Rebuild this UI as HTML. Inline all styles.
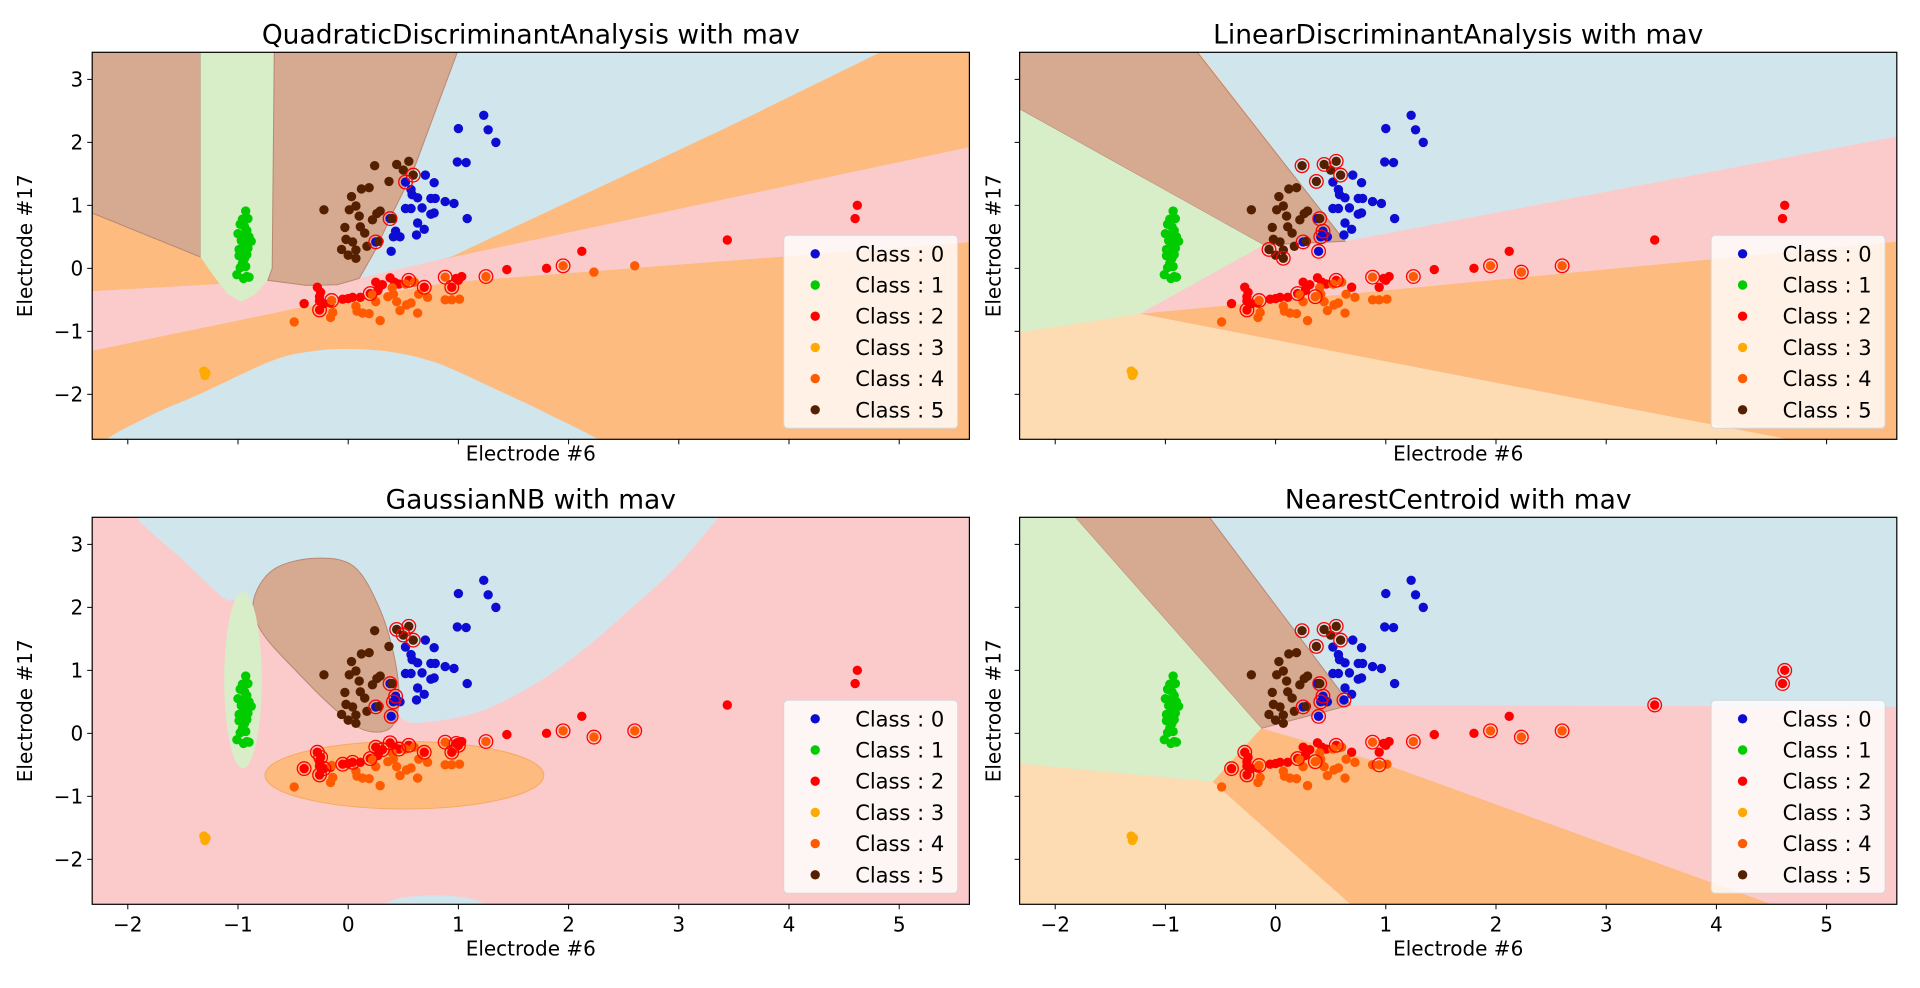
<!DOCTYPE html>
<html><head><meta charset="utf-8"><style>
html,body{margin:0;padding:0;background:#fff;}
svg text{font-family:"DejaVu Sans","Liberation Sans",sans-serif;fill:#000;}
</style></head><body>
<svg id="fig" xmlns="http://www.w3.org/2000/svg" width="1920" height="983" viewBox="0 0 1920 983"></svg>
<script>
// ---------- data ----------
const classNames = ["Class : 0","Class : 1","Class : 2","Class : 3","Class : 4","Class : 5"];
const classColors = ["#0c0cd2","#00cc00","#ff0000","#ffaa00","#ff5a00","#552000"];
const xTicks = [-2,-1,0,1,2,3,4,5];
const yTicks = [-2,-1,0,1,2,3];
const plotTitles = ["QuadraticDiscriminantAnalysis with mav","LinearDiscriminantAnalysis with mav","GaussianNB with mav","NearestCentroid with mav"];
const class0X = [1.23,1.0,1.27,1.34,0.99,1.07,0.70,0.78,0.52,0.57,0.58,0.63,0.75,0.79,0.88,0.96,0.52,0.57,0.67,0.75,0.78,1.08,0.38,0.63,0.69,0.62,0.43,0.41,0.47,0.25,0.39];
const class0Y = [2.43,2.22,2.2,2.0,1.69,1.68,1.48,1.36,1.37,1.25,1.17,1.12,1.11,1.11,1.06,1.03,0.95,0.95,0.96,0.86,0.88,0.79,0.79,0.72,0.62,0.53,0.59,0.50,0.50,0.42,0.27];
const class1X = [-0.93,-0.96,-0.91,-0.98,-0.94,-0.92,-1.00,-0.95,-0.90,-0.88,-0.97,-0.93,-0.99,-0.95,-0.91,-0.99,-0.94,-0.92,-0.96,-0.98,-0.93,-1.01,-0.92,-0.95,-0.90];
const class1Y = [0.91,0.78,0.79,0.70,0.66,0.60,0.55,0.52,0.50,0.43,0.44,0.38,0.30,0.28,0.32,0.20,0.16,0.22,0.08,0.01,0.03,-0.10,-0.13,-0.16,-0.14];
const class2X = [-0.40,-0.28,-0.25,-0.26,-0.22,-0.16,-0.05,0.04,0.11,0.25,0.31,0.38,0.46,0.55,0.69,0.94,1.0,1.03,1.44,1.80,2.12,0.20,0.28,-0.26,-0.26,0.0,0.27,0.42,0.98,3.44,4.62,4.60];
const class2Y = [-0.56,-0.30,-0.38,-0.66,-0.56,-0.54,-0.49,-0.46,-0.46,-0.22,-0.26,-0.15,-0.25,-0.19,-0.30,-0.30,-0.19,-0.13,-0.02,0.0,0.27,-0.40,-0.30,-0.45,-0.52,-0.48,-0.35,-0.22,-0.16,0.45,1.0,0.79];
const class3X = [-1.31,-1.30,-1.29];
const class3Y = [-1.63,-1.70,-1.66];
const class4X = [-0.15,-0.14,-0.16,0.07,0.08,0.13,0.19,0.29,0.22,0.25,0.40,0.41,0.44,0.47,0.53,0.57,0.63,0.64,0.72,0.52,0.60,0.88,0.94,1.01,0.88,1.25,1.95,2.23,2.6,-0.49,0.36];
const class4Y = [-0.51,-0.70,-0.78,-0.60,-0.68,-0.71,-0.72,-0.83,-0.42,-0.53,-0.31,-0.41,-0.53,-0.67,-0.58,-0.55,-0.71,-0.41,-0.46,-0.25,-0.22,-0.50,-0.50,-0.49,-0.14,-0.13,0.04,-0.06,0.04,-0.85,-0.45];
const class5X = [0.24,0.44,0.55,0.50,0.59,0.37,0.12,0.19,0.03,0.07,0.01,-0.22,0.10,0.29,0.26,0.22,0.40,-0.03,0.11,0.15,-0.02,0.04,-0.06,0.07,0.0,0.07,0.17,0.28];
const class5Y = [1.63,1.65,1.70,1.56,1.48,1.38,1.26,1.28,1.14,0.99,0.93,0.93,0.83,0.91,0.87,0.77,0.79,0.65,0.66,0.56,0.46,0.42,0.30,0.29,0.21,0.16,0.35,0.43];
// misclassified (ringed) points per plot
const ringQdaX = [0.52,0.59,0.38,0.25,-0.26,0.69,0.94,0.20,-0.15,0.88,1.25,1.95,0.55];
const ringQdaY = [1.37,1.48,0.79,0.42,-0.66,-0.30,-0.30,-0.40,-0.51,-0.14,-0.13,0.04,-0.19];
const ringLdaX = [0.24,0.44,0.55,0.59,0.37,0.40,0.43,0.41,0.25,0.39,-0.06,0.07,0.88,1.25,1.95,2.23,2.6,-0.26,-0.15,0.20,0.36,0.55];
const ringLdaY = [1.63,1.65,1.70,1.48,1.38,0.79,0.59,0.50,0.42,0.27,0.30,0.16,-0.14,-0.13,0.04,-0.06,0.04,-0.66,-0.51,-0.40,-0.45,-0.19];
const ringGnbX = [-0.40,-0.28,-0.25,-0.26,-0.22,-0.05,0.04,0.20,0.25,0.31,0.38,0.46,0.55,0.69,0.94,1.0,0.98,0.88,1.25,1.95,2.23,2.6,0.44,0.55,0.50,0.59,0.38,0.43,0.41,0.25,0.39];
const ringGnbY = [-0.56,-0.30,-0.38,-0.66,-0.56,-0.49,-0.46,-0.40,-0.22,-0.26,-0.15,-0.25,-0.19,-0.30,-0.30,-0.19,-0.16,-0.14,-0.13,0.04,-0.06,0.04,1.65,1.70,1.56,1.48,0.79,0.59,0.50,0.42,0.27];
const ringNcX = [0.24,0.44,0.55,0.59,0.37,0.40,0.43,0.41,0.25,0.39,0.62,0.88,1.25,1.95,2.23,2.6,-0.26,-0.15,0.20,0.36,0.55,-0.40,-0.28,0.94,3.44,4.62,4.60];
const ringNcY = [1.63,1.65,1.70,1.48,1.38,0.79,0.59,0.50,0.42,0.27,0.53,-0.14,-0.13,0.04,-0.06,0.04,-0.66,-0.51,-0.40,-0.45,-0.19,-0.56,-0.30,-0.50,0.45,1.0,0.79];

// ---------- layout ----------
const NS = "http://www.w3.org/2000/svg";
const svg = document.getElementById('fig');
const XMIN=-2.323, XMAX=5.637, YMIN=-2.714, YMAX=3.43, AW=877.2, AH=387;
const LEFTS=[92.2,1019.6,92.2,1019.6], TOPS=[52.3,52.3,517.3,517.3];
const C = {blue:"#d1e5ed", brown:"#d6a991", green:"#d8eec8", pink:"#fbcbcb", orange:"#fdbb7f", lorange:"#fddcb4"};
function el(tag, attrs, parent){const e=document.createElementNS(NS,tag);for(const k in attrs)e.setAttribute(k,attrs[k]);(parent||svg).appendChild(e);return e;}

function axesFns(i){
  const L=LEFTS[i], T=TOPS[i];
  return {sx:x=>L+(x-XMIN)/(XMAX-XMIN)*AW, sy:y=>T+(YMAX-y)/(YMAX-YMIN)*AH, L, T};
}
function smoothPath(P){ // closed Catmull-Rom
  const n=P.length; let d='M'+P[0][0].toFixed(1)+','+P[0][1].toFixed(1);
  for(let k=0;k<n;k++){
    const p0=P[(k-1+n)%n],p1=P[k],p2=P[(k+1)%n],p3=P[(k+2)%n];
    const c1=[p1[0]+(p2[0]-p0[0])/6,p1[1]+(p2[1]-p0[1])/6];
    const c2=[p2[0]-(p3[0]-p1[0])/6,p2[1]-(p3[1]-p1[1])/6];
    d+=' C'+c1[0].toFixed(1)+','+c1[1].toFixed(1)+' '+c2[0].toFixed(1)+','+c2[1].toFixed(1)+' '+p2[0].toFixed(1)+','+p2[1].toFixed(1);
  }
  return d+'Z';
}
const X0=XMIN-0.2, X1=XMAX+0.2, Y0=YMIN-0.2, Y1=YMAX+0.2;
const regions = [
 [ // QDA
  ["orange",[[X0,Y1],[X1,Y1],[X1,Y0],[X0,Y0]]],
  ["pink",[[X0,-0.38],[-1.2,-0.25],[0,-0.1],[0.93,0.17],[X1,2.0],[X1,0.44],[0.93,-0.22],[-0.4,-0.61],[X0,-1.38]]],
  ["blue",[[-2.4,-3.1],[-2.2,-2.72],[-1.75,-2.3],[-1.34,-1.99],[-0.68,-1.46],[-0.3,-1.31],[0.02,-1.28],[0.4,-1.33],[0.8,-1.5],[1.29,-1.88],[1.8,-2.3],[2.3,-2.75],[2.5,-3.1],[0,-3.3]],true],
  ["blue",[[-0.7,Y1],[4.83,Y1],[4.83,3.43],[3.44,2.24],[0.93,0.18],[0.1,-0.16],[-0.7,-0.2]]],
  ["orange",[[X0,1.0],[-1.34,0.18],[-1.2,-0.25],[X0,-0.38]]],
  ["brown",[[X0,Y1],[-1.34,Y1],[-1.34,0.18],[X0,1.02]]],
  ["green",[[-1.34,Y1],[-0.67,Y1],[-0.69,0.0],[-0.73,-0.19],[-0.85,-0.42],[-0.97,-0.53],[-1.1,-0.4],[-1.25,-0.05],[-1.34,0.18]]],
  ["brown",[[-0.67,Y1],[0.99,Y1],[0.99,3.43],[0.75,2.3],[0.58,1.5],[0.4,0.87],[0.25,0.3],[0.1,-0.16],[-0.1,-0.26],[-0.38,-0.27],[-0.73,-0.19],[-0.69,0.0]]]
 ],
 [ // LDA
  ["lorange",[[X0,Y1],[X1,Y1],[X1,Y0],[X0,Y0]]],
  ["orange",[[-1.23,-0.72],[X1,0.46],[X1,Y0],[4.75,Y0],[4.65,-2.714]]],
  ["pink",[[-1.23,-0.72],[-0.11,0.37],[0.63,0.43],[X1,2.16],[X1,0.46]]],
  ["blue",[[-0.78,Y1],[X1,Y1],[X1,2.16],[0.63,0.43]]],
  ["brown",[[X0,Y1],[-0.78,Y1],[-0.71,3.43],[0.63,0.43],[-0.11,0.37],[X0,2.72]]],
  ["green",[[X0,2.72],[-0.11,0.37],[-1.23,-0.72],[X0,-1.07]]]
 ],
 [ // GNB
  ["pink",[[X0,Y1],[X1,Y1],[X1,Y0],[X0,Y0]]],
  ["blue",[[-2.3,4.2],[-1.93,3.43],[-1.5,2.75],[-1.12,2.14],[-0.9,2.0],[0.3,0.6],[0.5,0.22],[0.72,0.18],[1.2,0.35],[1.73,0.82],[2.15,1.35],[2.5,1.88],[2.95,2.6],[3.36,3.43],[3.7,4.2]],true],
  ["brown",[[-0.30,2.78],[0.05,2.65],[0.28,2.0],[0.42,1.2],[0.46,0.5],[0.38,0.08],[0.15,0.05],[-0.1,0.35],[-0.45,0.95],[-0.78,1.6],[-0.86,2.1],[-0.68,2.6]],true]
 ],
 [ // NC
  ["pink",[[X0,Y1],[X1,Y1],[X1,Y0],[X0,Y0]]],
  ["blue",[[-0.62,Y1],[X1,Y1],[X1,0.42],[0.68,0.45],[-0.6,3.43]]],
  ["brown",[[-1.86,Y1],[-0.62,Y1],[-0.6,3.43],[0.68,0.45],[-0.13,0.08],[-1.82,3.43]]],
  ["green",[[X0,Y1],[-1.86,Y1],[-1.82,3.43],[-0.13,0.08],[-0.57,-0.77],[X0,-0.45]]],
  ["lorange",[[X0,-0.45],[-0.57,-0.77],[0.68,-2.714],[0.7,Y0],[X0,Y0]]],
  ["orange",[[-0.13,0.08],[0.98,-0.48],[4.5,-2.714],[4.55,Y0],[0.7,Y0],[0.68,-2.714],[-0.57,-0.77]]]
 ]
];
const ringSets = [[ringQdaX,ringQdaY],[ringLdaX,ringLdaY],[ringGnbX,ringGnbY],[ringNcX,ringNcY]];
const classXs=[class0X,class1X,class2X,class3X,class4X,class5X];
const classYs=[class0Y,class1Y,class2Y,class3Y,class4Y,class5Y];

for(let i=0;i<4;i++){
  const {sx,sy,L,T}=axesFns(i);
  const g=el('g',{});
  
  
  const cp=el('clipPath',{id:'clip'+i},g);
  el('rect',{x:L,y:T,width:AW,height:AH},cp);
  const rg=el('g',{'clip-path':'url(#clip'+i+')'},g);
  
  
  regions[i].forEach(([c,pts,smooth])=>{
    const stroke=c==='brown'?'#b98773':'none';
    let p;
    if(smooth){
      p=el('path',{d:smoothPath(pts.map(q=>[sx(q[0]),sy(q[1])])),fill:C[c],stroke:stroke,'stroke-width':1},rg);
    } else {
      p=el('polygon',{points:pts.map(q=>sx(q[0]).toFixed(1)+','+sy(q[1]).toFixed(1)).join(' '),fill:C[c],stroke:stroke,'stroke-width':1},rg);
    }
    
    
  });
  if(i===2){
    const e1=el('ellipse',{cx:sx(-0.955),cy:sy(0.845),rx:0.17*110.2,ry:1.4*63,fill:C.green},rg);
    
    
    const e2=el('ellipse',{cx:sx(0.51),cy:sy(-0.665),rx:1.265*110.2,ry:0.535*63,fill:C.orange,stroke:'#f8a860','stroke-width':1},rg);
    
    
    const e3=el('ellipse',{cx:sx(0.78),cy:sy(-2.75),rx:0.46*110.2,ry:0.18*63,fill:C.blue},rg);
    
    
  }
  // points
  for(let c=0;c<6;c++){
    for(let k=0;k<classXs[c].length;k++){
      const d=el('circle',{cx:sx(classXs[c][k]),cy:sy(classYs[c][k]),r:4.7,fill:classColors[c]},g);
      
      
    }
  }
  const [rx,ry]=ringSets[i];
  for(let k=0;k<rx.length;k++){
    const r=el('circle',{cx:sx(rx[k]),cy:sy(ry[k]),r:6.8,fill:'none',stroke:'#ff0000','stroke-width':1.3},g);
    
    
  }
  // frame
  const fr=el('rect',{x:L,y:T,width:AW,height:AH,fill:'none',stroke:'#000','stroke-width':1.2},g);
  
  
  // ticks
  xTicks.forEach(t=>{
    const x=sx(t);
    const tk=el('line',{x1:x,x2:x,y1:T+AH,y2:T+AH+5,stroke:'#000','stroke-width':1},g);
    
    
    if(i>=2){
      const tl=el('text',{x:x,y:T+AH+27,'font-size':20,'text-anchor':'middle'},g);
      tl.textContent=(t<0?'\u2212':'')+Math.abs(t);
      
      
    }
  });
  yTicks.forEach(t=>{
    const y=sy(t);
    const tk=el('line',{x1:L-5,x2:L,y1:y,y2:y,stroke:'#000','stroke-width':1},g);
    
    
    if(i%2===0){
      const tl=el('text',{x:L-9,y:y+7,'font-size':20,'text-anchor':'end'},g);
      tl.textContent=(t<0?'\u2212':'')+Math.abs(t);
      
      
    }
  });
  const xl=el('text',{x:L+AW/2,y:T+AH+(i>=2?51:21),'font-size':20,'text-anchor':'middle'},g);
  xl.textContent='Electrode #6';
  
  
  const ylx=(i%2===0)?L-60:L-19;
  const yl=el('text',{x:ylx,y:T+AH/2,'font-size':20,'text-anchor':'middle',transform:'rotate(-90 '+ylx+' '+(T+AH/2)+')'},g);
  yl.textContent='Electrode #17';
  
  
  const ti=el('text',{x:L+AW/2,y:T-9,'font-size':26.5,'text-anchor':'middle'},g);
  ti.textContent=plotTitles[i];
  
  
  // legend
  const lg=el('g',{},g);
  
  
  const lx=L+691.5, ly=T+183;
  el('rect',{x:lx,y:ly,width:174,height:193,rx:4,fill:'rgba(255,255,255,0.8)',stroke:'#d6d6d6','stroke-width':1},lg);
  for(let c=0;c<6;c++){
    const yy=ly+18.5+c*31.2;
    const m=el('circle',{cx:lx+31.5,cy:yy,r:4.7,fill:classColors[c]},lg);
    
    
    const t=el('text',{x:lx+71.5,y:yy+7.5,'font-size':21},lg);
    t.textContent=classNames[c];
    
    
  }
}
</script>
</body></html>
